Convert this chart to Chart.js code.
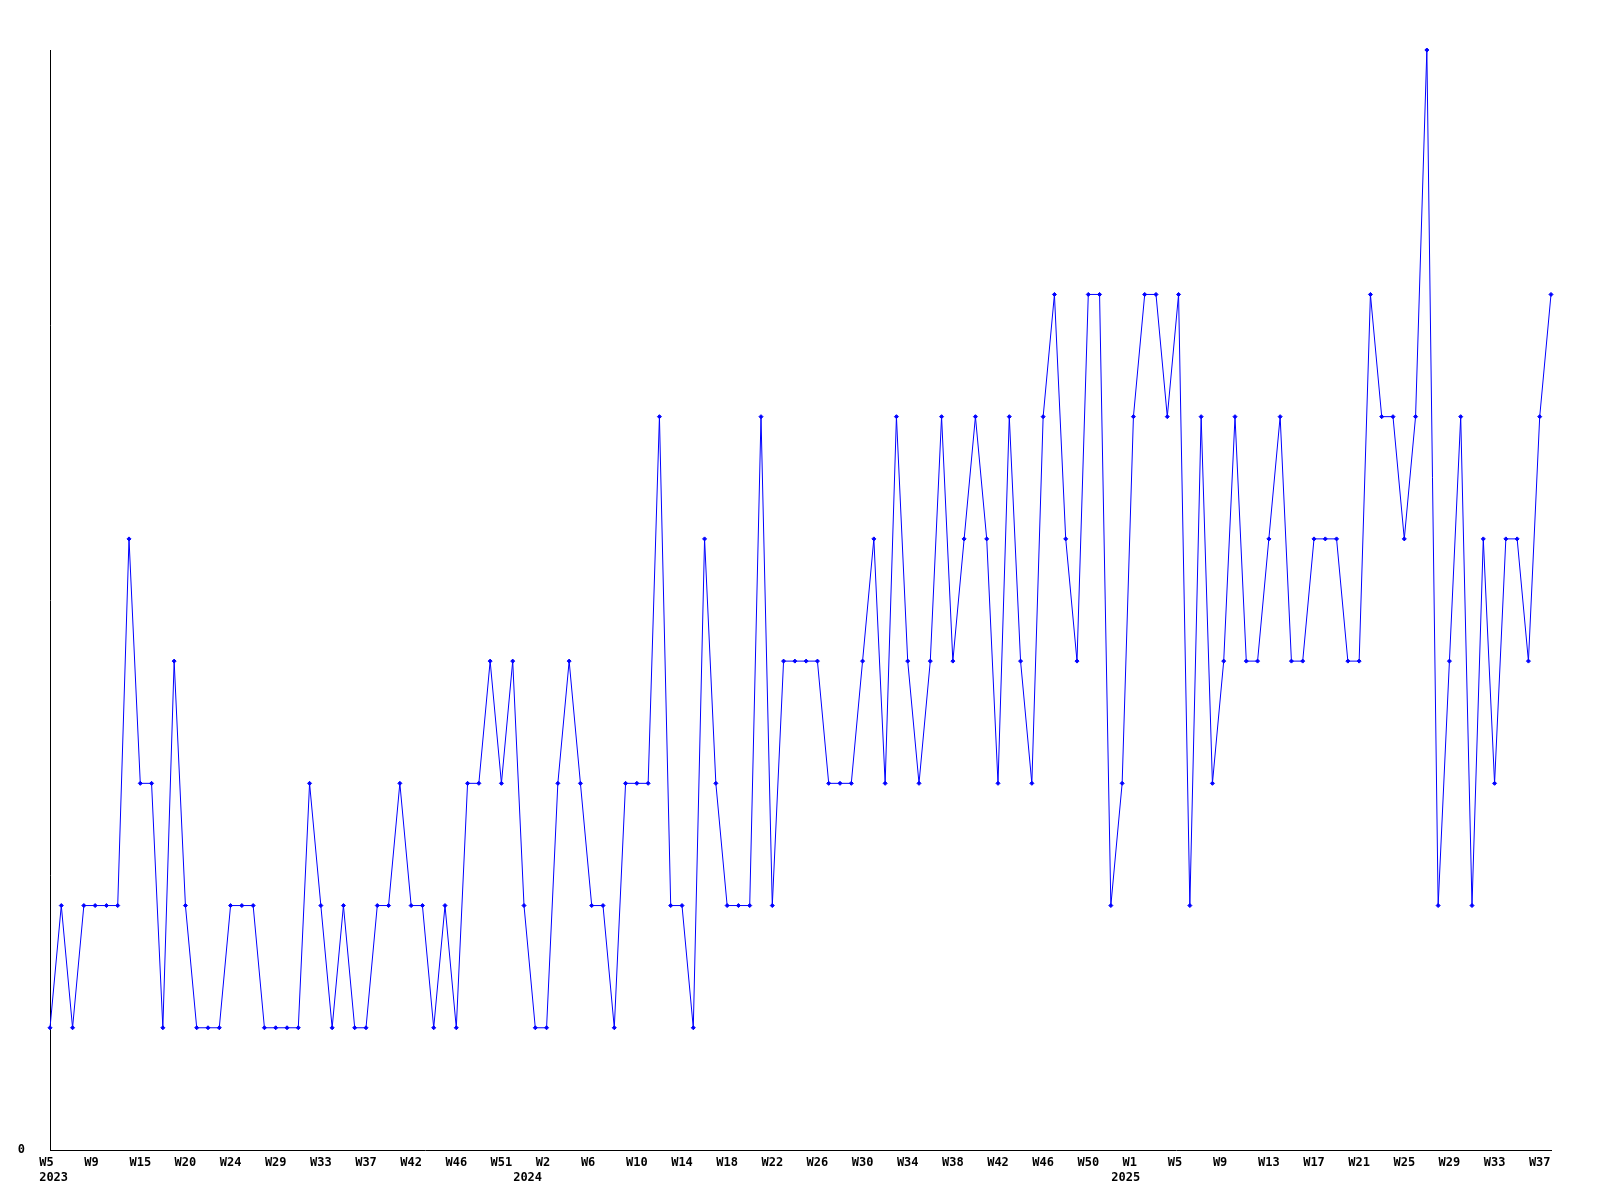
<!DOCTYPE html>
<html>
<head>
<meta charset="utf-8">
<title>Weekly count</title>
<script src="https://cdn.jsdelivr.net/npm/chart.js@4/dist/chart.umd.min.js"></script>
<style>
  html, body { margin: 0; padding: 0; background: #ffffff; }
  #chart { display: block; }
</style>
</head>
<body>
<canvas id="chart" width="1600" height="1200"></canvas>
<script>
// Week of each point (some 2023 weeks are missing in the source)
const weeks2023 = ['W5', 'W6', 'W7', 'W8', 'W9', 'W10', 'W11', 'W13', 'W15', 'W16',
    'W17', 'W19', 'W20', 'W21', 'W22', 'W23', 'W24', 'W25', 'W26', 'W28',
    'W29', 'W30', 'W31', 'W32', 'W33', 'W34', 'W35', 'W36', 'W37', 'W38',
    'W39', 'W40', 'W42', 'W43', 'W44', 'W45', 'W46', 'W47', 'W48', 'W49',
    'W51', 'W52'];
const weeks2024 = ['W0', 'W1', 'W2', 'W3', 'W4', 'W5', 'W6', 'W7', 'W8', 'W9',
    'W10', 'W11', 'W12', 'W13', 'W14', 'W15', 'W16', 'W17', 'W18', 'W19',
    'W20', 'W21', 'W22', 'W23', 'W24', 'W25', 'W26', 'W27', 'W28', 'W29',
    'W30', 'W31', 'W32', 'W33', 'W34', 'W35', 'W36', 'W37', 'W38', 'W39',
    'W40', 'W41', 'W42', 'W43', 'W44', 'W45', 'W46', 'W47', 'W48', 'W49',
    'W50', 'W51', 'W52'];
const weeks2025 = ['W0', 'W1', 'W2', 'W3', 'W4', 'W5', 'W6', 'W7', 'W8', 'W9',
    'W10', 'W11', 'W12', 'W13', 'W14', 'W15', 'W16', 'W17', 'W18', 'W19',
    'W20', 'W21', 'W22', 'W23', 'W24', 'W25', 'W26', 'W27', 'W28', 'W29',
    'W30', 'W31', 'W32', 'W33', 'W34', 'W35', 'W36', 'W37', 'W38'];
const years = ['2023', '2024', '2025'];

// Weekly values
const counts = [
    1, 2, 1, 2, 2, 2, 2, 5, 3, 3,
    1, 4, 2, 1, 1, 1, 2, 2, 2, 1,
    1, 1, 1, 3, 2, 1, 2, 1, 1, 2,
    2, 3, 2, 2, 1, 2, 1, 3, 3, 4,
    3, 4, 2, 1, 1, 3, 4, 3, 2, 2,
    1, 3, 3, 3, 6, 2, 2, 1, 5, 3,
    2, 2, 2, 6, 2, 4, 4, 4, 4, 3,
    3, 3, 4, 5, 3, 6, 4, 3, 4, 6,
    4, 5, 6, 5, 3, 6, 4, 3, 6, 7,
    5, 4, 7, 7, 2, 3, 6, 7, 7, 6,
    7, 2, 6, 3, 4, 6, 4, 4, 5, 6,
    4, 4, 5, 5, 5, 4, 4, 7, 6, 6,
    5, 6, 9, 2, 4, 6, 2, 5, 3, 5,
    5, 4, 6, 7
];

const yMax = 9;
const labelEvery = 4;

document.addEventListener('DOMContentLoaded', function() {
    const groups = [weeks2023, weeks2024, weeks2025];

    // Build category labels and remember where each year starts
    const labels = [];
    const yearStart = {};
    groups.forEach((weeks, g) => {
        yearStart[labels.length] = years[g];
        weeks.forEach(w => labels.push(w));
    });

    const mono = { family: '"DejaVu Sans Mono", monospace', size: 12, weight: 'bold', lineHeight: 1.25 };

    new Chart(document.getElementById('chart'), {
        type: 'line',
        data: {
            labels: labels,
            datasets: [{
                data: counts,
                borderColor: '#0000ff',
                borderWidth: 1,
                tension: 0,
                pointStyle: 'rectRot',
                pointRadius: 2,
                pointBorderWidth: 1,
                pointBackgroundColor: '#0000ff',
                pointBorderColor: '#0000ff',
                clip: false
            }]
        },
        options: {
            responsive: false,
            animation: false,
            devicePixelRatio: 1,
            layout: { padding: { top: 50, right: 49, bottom: 0, left: 0 } },
            plugins: {
                legend: { display: false },
                tooltip: { enabled: false }
            },
            scales: {
                x: {
                    type: 'category',
                    offset: false,
                    grid: { display: false, drawTicks: false },
                    border: { display: true, color: '#000000', width: 1 },
                    afterFit: function(scale) { scale.height = 50; },
                    ticks: {
                        autoSkip: false,
                        maxRotation: 0,
                        minRotation: 0,
                        padding: 5,
                        color: '#000000',
                        font: mono,
                        callback: function(value, index) {
                            // labels sit a little left of their tick, like the original
                            const year = yearStart[index] ? ' ' + yearStart[index] : null;
                            if (index % labelEvery === 0) {
                                const w = (labels[index] + '   ').slice(0, 3);
                                return year ? [w, year] : w;
                            }
                            return year ? ['', year] : '';
                        }
                    }
                },
                y: {
                    min: 0,
                    max: yMax,
                    grid: { display: false, drawTicks: false },
                    border: { display: true, color: '#000000', width: 1 },
                    afterFit: function(scale) { scale.width = 50; },
                    afterBuildTicks: function(scale) { scale.ticks = [{ value: 0 }]; },
                    ticks: {
                        padding: 25,
                        color: '#000000',
                        font: mono,
                        callback: function(value) { return String(value); }
                    }
                }
            }
        }
    });
});
</script>
</body>
</html>
